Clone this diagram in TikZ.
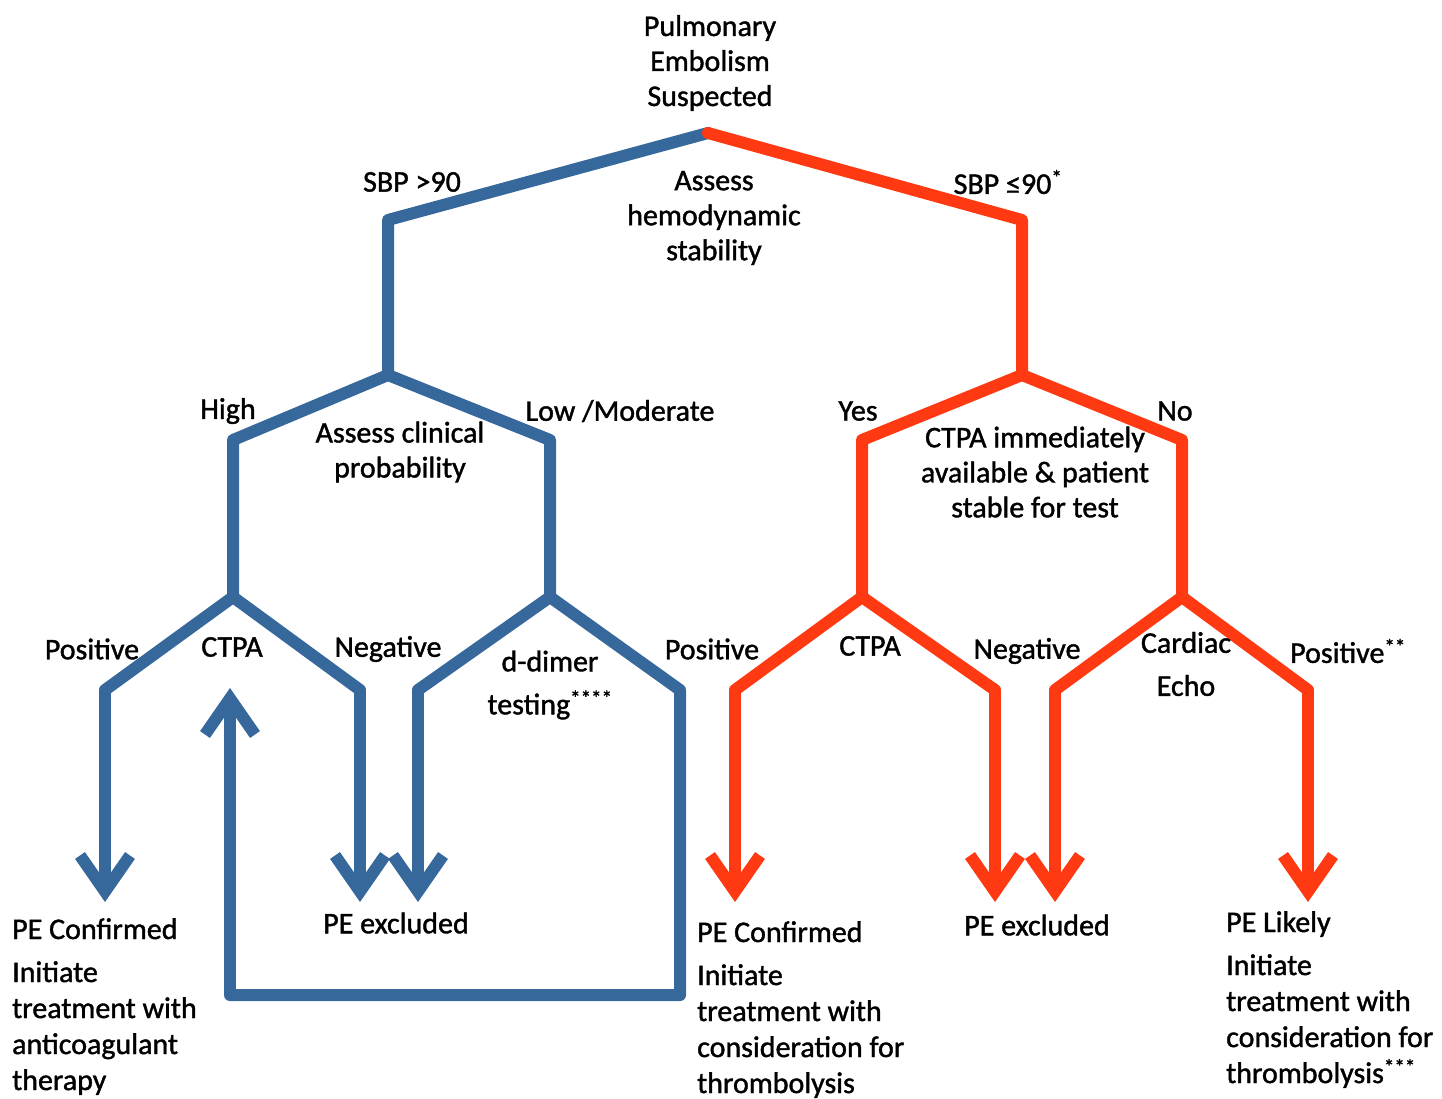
\documentclass[tikz,border=0pt]{standalone}
\usepackage{fontspec}
\setmainfont{Carlito}[FakeBold=1.3]
\usetikzlibrary{arrows.meta}
\definecolor{pblue}{RGB}{54,104,156}
\definecolor{pred}{RGB}{255,58,18}
\begin{document}
\begin{tikzpicture}[x=1pt,y=-1pt,
  branch/.style={line width=12pt, line join=round, line cap=round},
  bb/.style={branch, draw=pblue},
  rb/.style={branch, draw=pred},
  tipped/.style={-{Straight Barb[length=36pt,width=50pt,line width=12pt]}, line cap=butt},
  lbl/.style={font=\fontsize{30}{35}\selectfont, inner sep=0pt, align=center},
  blk/.style={font=\fontsize{30}{36}\selectfont, inner sep=0pt, align=left, anchor=north west},
]
\useasboundingbox (0,0) rectangle (1442,1099);
% coordinates
\coordinate (top) at (708,133);
\coordinate (Lc) at (388,220); \coordinate (L) at (388,375);
\coordinate (Rc) at (1022,220); \coordinate (R) at (1022,375);
\coordinate (LLc) at (233,440); \coordinate (LL) at (233,597);
\coordinate (LRc) at (550,440); \coordinate (LR) at (550,597);
\coordinate (RLc) at (862,440); \coordinate (RL) at (862,597);
\coordinate (RRc) at (1182,440); \coordinate (RR) at (1182,597);
\coordinate (a1c) at (105,690); \coordinate (a1) at (105,902);
\coordinate (a2c) at (360,690); \coordinate (a2) at (360,902);
\coordinate (a3c) at (418,690); \coordinate (a3) at (418,902);
\coordinate (a4c) at (680,690); \coordinate (lp1) at (680,995);
\coordinate (lp2) at (230,995); \coordinate (a4) at (230,688);
\coordinate (a5c) at (735,690); \coordinate (a5) at (735,902);
\coordinate (a6c) at (995,690); \coordinate (a6) at (995,902);
\coordinate (a7c) at (1055,690); \coordinate (a7) at (1055,902);
\coordinate (a8c) at (1308,690); \coordinate (a8) at (1308,902);
% tree lines
\draw[bb] (top) -- (Lc) -- (L);
\draw[rb] (top) -- (Rc) -- (R);
\draw[bb] (L) -- (LLc) -- (LL);
\draw[bb] (L) -- (LRc) -- (LR);
\draw[rb] (R) -- (RLc) -- (RL);
\draw[rb] (R) -- (RRc) -- (RR);
\draw[bb] (LL) -- (a1c);
\draw[bb,tipped] (a1c) -- (a1);
\draw[bb] (LL) -- (a2c);
\draw[bb,tipped] (a2c) -- (a2);
\draw[bb] (LR) -- (a3c);
\draw[bb,tipped] (a3c) -- (a3);
\draw[bb] (LR) -- (a4c) -- (lp1) -- (lp2);
\draw[bb,tipped] (lp2) -- (a4);
\draw[rb] (RL) -- (a5c);
\draw[rb,tipped] (a5c) -- (a5);
\draw[rb] (RL) -- (a6c);
\draw[rb,tipped] (a6c) -- (a6);
\draw[rb] (RR) -- (a7c);
\draw[rb,tipped] (a7c) -- (a7);
\draw[rb] (RR) -- (a8c);
\draw[rb,tipped] (a8c) -- (a8);
% labels
\node[lbl] (title) at (710,63) {Pulmonary\\Embolism\\Suspected};
\node[lbl] (sbp1) at (412,182) {SBP >90};
\node[lbl] (sbp2) at (1008,182) {SBP ≤90\textsuperscript{*}};
\node[lbl] (hemo) at (714,218) {Assess\\hemodynamic\\stability};
\node[lbl] (high) at (228,411) {High};
\node[lbl] (lowmod) at (620,411) {Low /Moderate};
\node[lbl] (clin) at (400,452) {Assess clinical\\probability};
\node[lbl] (yes) at (858,411) {Yes};
\node[lbl] (no) at (1175,411) {No};
\node[lbl] (ctpaq) at (1035,472) {CTPA immediately\\available \& patient\\stable for test};
\node[lbl] (pos1) at (92,649) {Positive};
\node[lbl] (ctpa1) at (232,647) {CTPA};
\node[lbl] (neg1) at (388,649) {Negative};
\node[lbl] (dd) at (550,685) {d-dimer\\[8pt]testing\textsuperscript{****}};
\node[lbl] (pos2) at (712,649) {Positive};
\node[lbl] (ctpa2) at (870,646) {CTPA};
\node[lbl] (neg2) at (1027,651) {Negative};
\node[lbl] (echo) at (1186,664) {Cardiac\\[8pt]Echo};
\node[lbl] (pos3) at (1348,651) {Positive\textsuperscript{**}};
\node[lbl] (exc1) at (396,923) {PE excluded};
\node[lbl] (exc2) at (1037,925) {PE excluded};
\node[blk] (conf1) at (12,918) {PE Confirmed\\[7pt]Initiate\\treatment with\\anticoagulant\\therapy};
\node[blk] (conf2) at (697,921) {PE Confirmed\\[7pt]Initiate\\treatment with\\consideration for\\thrombolysis};
\node[blk] (likely) at (1226,911) {PE Likely\\[7pt]Initiate\\treatment with\\consideration for\\thrombolysis\textsuperscript{***}};
\end{tikzpicture}
\end{document}
